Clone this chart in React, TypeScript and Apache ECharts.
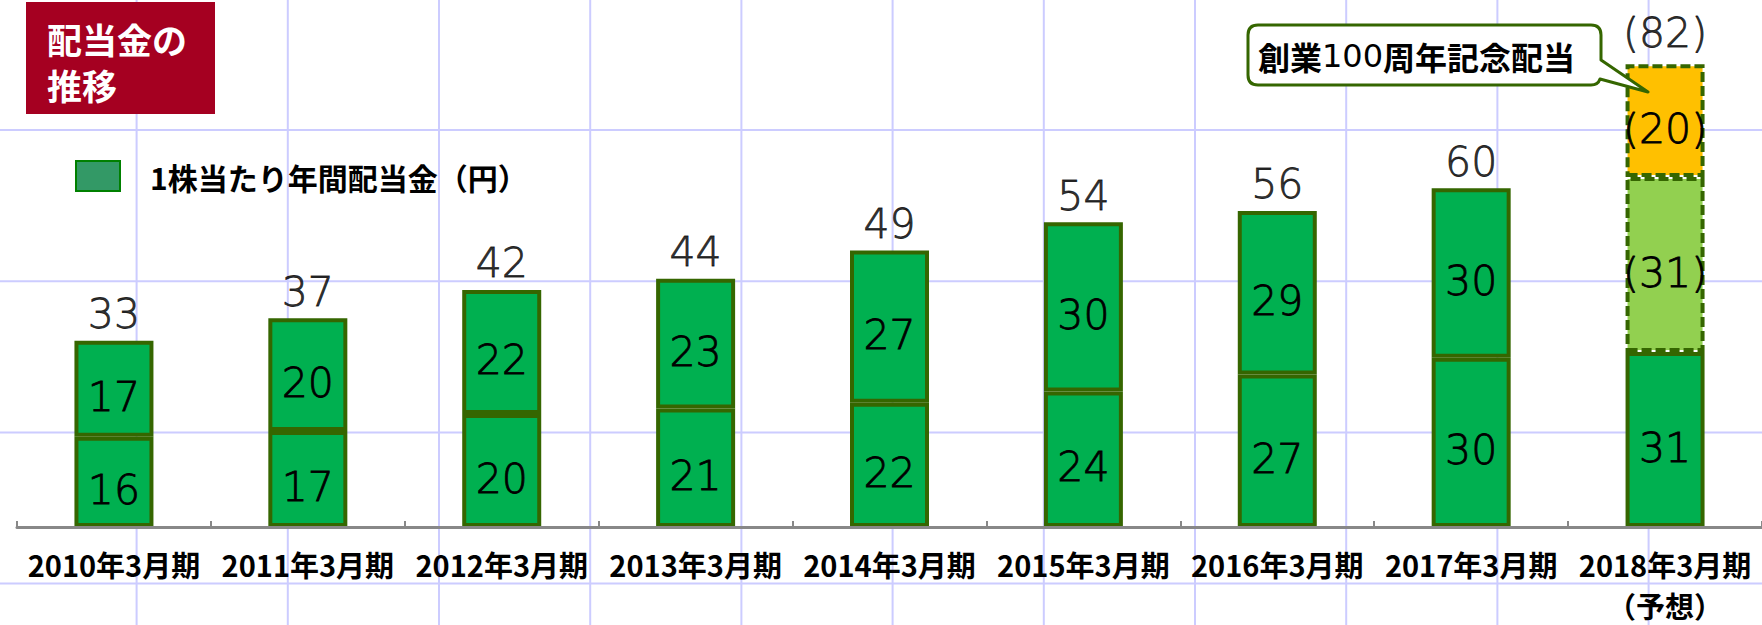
import React, { useEffect, useRef } from 'react';
import * as echarts from 'echarts';

// ---- data ----
const categories = [
  '2010年3月期',
  '2011年3月期',
  '2012年3月期',
  '2013年3月期',
  '2014年3月期',
  '2015年3月期',
  '2016年3月期',
  '2017年3月期',
  '2018年3月期\n（予想）',
];
const firstHalf = [16, 17, 20, 21, 22, 24, 27, 30, 31];
const secondHalf = [17, 20, 22, 23, 27, 30, 29, 30, null];
const forecastSecondHalf = [null, null, null, null, null, null, null, null, 31];
const commemorative = [null, null, null, null, null, null, null, null, 20];
const totals = [33, 37, 42, 44, 49, 54, 56, 60, 82];
const isForecast = [false, false, false, false, false, false, false, false, true];

const titleLines = ['配当金の', '推移'];
const legendText = '1株当たり年間配当金（円）';
const calloutText = '{b|創業}{n|100}{b|周年記念配当}';

// ---- styles ----
const GREEN = '#00B050';
const LIGHT_GREEN = '#92D050';
const ORANGE = '#FFC000';
const BORDER = '#356600';
const GRIDLINE = '#CCCCFF';
const NUM_FONT = 'DejaVu Sans';
const NUM_WEIGHT = 200;
const NUM_SIZE = 41;
const CJK_FONT = '"Noto Sans CJK JP", "Noto Sans", sans-serif';

const CALLOUT_D =
  'M1258,25 H1591 Q1601,25 1601,35 V60 L1648,92 L1600,79 Q1598,85 1591,85 H1258 Q1248,85 1248,75 V35 Q1248,25 1258,25 Z';

const numLabel = {
  show: true,
  position: 'inside',
  offset: [0, 8],
  color: '#000',
  fontSize: NUM_SIZE,
  fontWeight: NUM_WEIGHT,
  fontFamily: NUM_FONT,
  textBorderColor: '#000',
  textBorderWidth: 0.8,
};

export default function App() {
  const ref = useRef<HTMLDivElement>(null);
  useEffect(() => {
    if (!ref.current) return;
    try {
      echarts.graphic.registerShape('callout', echarts.graphic.extendPath(CALLOUT_D, {}));
    } catch (e) {
      /* already registered */
    }
    const chart = echarts.init(ref.current, null, { renderer: 'svg' });

    const bgLines: any[] = [];
    for (let x = 136.6; x < 1762; x += 151.2) {
      bgLines.push({
        type: 'line',
        silent: true,
        z: -10,
        shape: { x1: x, y1: 0, x2: x, y2: 625 },
        style: { stroke: GRIDLINE, lineWidth: 2 },
      });
    }
    for (let y = 130; y < 625; y += 151.2) {
      bgLines.push({
        type: 'line',
        silent: true,
        z: -10,
        shape: { x1: 0, y1: y, x2: 1762, y2: y },
        style: { stroke: GRIDLINE, lineWidth: 2 },
      });
    }

    const totalData = totals.map((v, i) =>
      isForecast[i] ? { value: v, label: { offset: [0, -5] } } : v
    );

    const option: any = {
      animation: false,
      backgroundColor: '#ffffff',
      grid: { left: 17, top: 19, width: 1751, height: 516, containLabel: false },
      xAxis: {
        type: 'category',
        data: categories,
        boundaryGap: true,
        axisLine: { show: true, lineStyle: { color: '#888888', width: 3 } },
        axisTick: {
          show: true,
          inside: true,
          length: 6,
          alignWithLabel: false,
          lineStyle: { color: '#888888', width: 2 },
        },
        axisLabel: {
          interval: 0,
          color: '#000',
          fontSize: 29,
          fontWeight: 'bold',
          fontFamily: CJK_FONT,
          lineHeight: 41,
          margin: 16,
        },
        splitLine: { show: false },
        z: 3,
      },
      yAxis: {
        type: 'value',
        min: 0,
        max: 90,
        show: false,
        splitLine: { show: false },
      },
      graphic: [
        ...bgLines,
        {
          type: 'rect',
          z: 10,
          shape: { x: 26, y: 2, width: 189, height: 112 },
          style: { fill: '#A50021' },
        },
        {
          type: 'text',
          z: 11,
          x: 47,
          y: 38,
          style: {
            text: titleLines[0],
            fill: '#ffffff',
            font: `bold 35px ${CJK_FONT}`,
            textAlign: 'left',
            textVerticalAlign: 'middle',
          },
        },
        {
          type: 'text',
          z: 11,
          x: 47,
          y: 84,
          style: {
            text: titleLines[1],
            fill: '#ffffff',
            font: `bold 35px ${CJK_FONT}`,
            textAlign: 'left',
            textVerticalAlign: 'middle',
          },
        },
        {
          type: 'rect',
          z: 10,
          shape: { x: 76, y: 161, width: 44, height: 30 },
          style: { fill: '#339966', stroke: '#008000', lineWidth: 2 },
        },
        {
          type: 'text',
          z: 11,
          x: 150,
          y: 177,
          style: {
            text: legendText,
            fill: '#000',
            font: `bold 30px ${CJK_FONT}`,
            textAlign: 'left',
            textVerticalAlign: 'middle',
          },
        },
        {
          type: 'callout',
          z: 20,
          x: 0,
          y: 0,
          style: { fill: '#ffffff', stroke: BORDER, lineWidth: 3, lineJoin: 'round' },
        },
        {
          type: 'text',
          z: 21,
          x: 1258,
          y: 56,
          style: {
            text: calloutText,
            textAlign: 'left',
            textVerticalAlign: 'middle',
            rich: {
              b: { fontSize: 32, fontWeight: 'bold', fontFamily: CJK_FONT, fill: '#000' },
              n: { fontSize: 32, fontWeight: 'normal', fontFamily: NUM_FONT, fill: '#000' },
            },
          },
        },
      ],
      series: [
        {
          name: '上期',
          type: 'bar',
          stack: 'dividend',
          barWidth: 79,
          data: firstHalf,
          itemStyle: { color: GREEN, borderColor: BORDER, borderWidth: 4 },
          label: numLabel,
        },
        {
          name: '下期',
          type: 'bar',
          stack: 'dividend',
          barWidth: 79,
          data: secondHalf,
          itemStyle: { color: GREEN, borderColor: BORDER, borderWidth: 4 },
          label: numLabel,
        },
        {
          name: '下期（予想）',
          type: 'bar',
          stack: 'dividend',
          barWidth: 79,
          data: forecastSecondHalf,
          itemStyle: { color: LIGHT_GREEN, borderColor: BORDER, borderWidth: 4, borderType: [10, 4] },
          label: { ...numLabel, formatter: (p: any) => `(${p.value})` },
        },
        {
          name: '創業100周年記念配当',
          type: 'bar',
          stack: 'dividend',
          barWidth: 79,
          data: commemorative,
          itemStyle: { color: ORANGE, borderColor: BORDER, borderWidth: 4, borderType: [10, 4] },
          label: { ...numLabel, formatter: (p: any) => `(${p.value})` },
        },
        {
          name: '合計',
          type: 'scatter',
          data: totalData,
          symbolSize: 0,
          itemStyle: { color: 'transparent' },
          z: 5,
          label: {
            show: true,
            position: 'top',
            distance: 6,
            color: '#000',
            fontSize: NUM_SIZE,
            fontWeight: NUM_WEIGHT,
            fontFamily: NUM_FONT,
            textBorderColor: '#000',
            textBorderWidth: 0.8,
            formatter: (p: any) => (isForecast[p.dataIndex] ? `(${p.value})` : `${p.value}`),
          },
        },
      ],
    };
    chart.setOption(option);
    return () => chart.dispose();
  }, []);
  return (
    <div
      ref={ref}
      style={{ position: 'fixed', left: 0, top: 0, width: 1762, height: 625, background: '#fff' }}
    />
  );
}
